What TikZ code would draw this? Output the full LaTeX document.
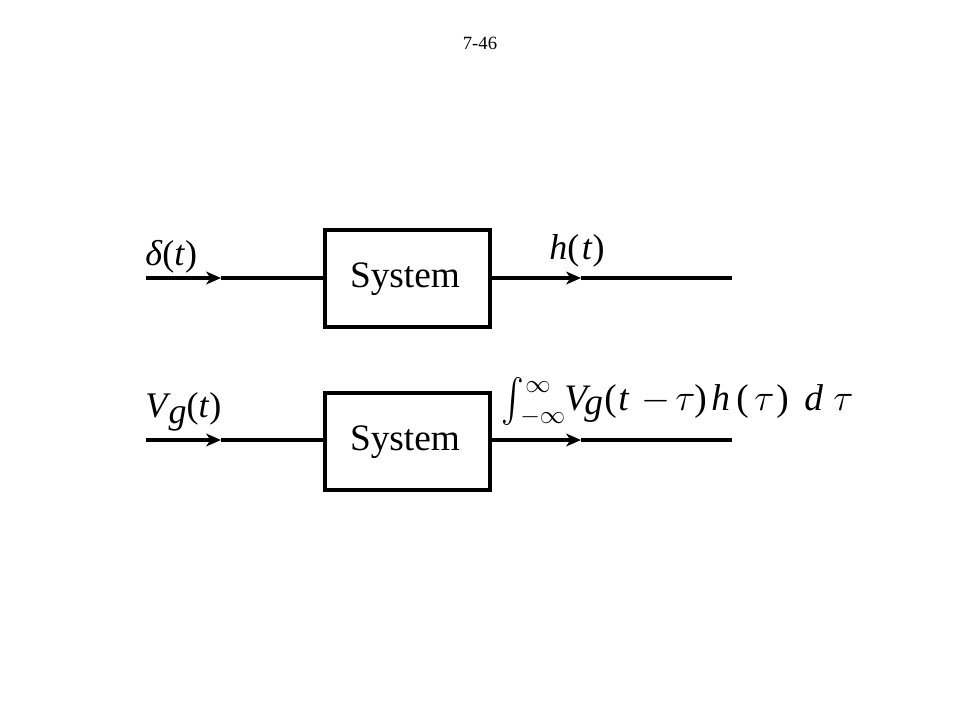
\documentclass[tikz,border=0pt]{standalone}
\usepackage{fix-cm}
\usepackage{exscale}
\usepackage{graphicx}
\usepackage{fontspec}
\setmainfont{Liberation Serif}
\usetikzlibrary{arrows.meta}
\newcommand\putat[2]{\makebox[0pt][l]{\hspace*{#1}#2}}
\newcommand\pxat[2]{\putat{\dimexpr #1pt*3/4\relax}{#2}}
\begin{document}
\begin{tikzpicture}[x=0.75pt,y=-0.75pt,
  sysbox/.style={draw,line width=2.4pt,minimum width=123.75pt,minimum height=72.75pt,inner sep=0pt},
  sig/.style={line width=2.5pt},
  sigarrow/.style={line width=2.5pt,-{Stealth[length=11pt,width=9.5pt,inset=3pt]}},
  lbl/.style={anchor=base west,inner sep=0pt},
  systext/.style={anchor=base,inner sep=0pt,font=\fontsize{28}{30}\selectfont}]
\useasboundingbox (0,0) rectangle (960,720);
\node[anchor=base,inner sep=0pt,font=\fontsize{14}{16}\selectfont] (title) at (480,50) {7-46};
% row 1
\node[sysbox] (box1) at (407.5,278.5) {};
\node[systext] (sys1) at (405,287) {System};
\coordinate (in1) at (146,278);
\coordinate (ia1) at (221,278);
\coordinate (oa1) at (581,278);
\coordinate (out1) at (732,278);
\draw[sigarrow] (in1) -- (ia1);
\draw[sig] (ia1) -- (box1.west|-in1);
\draw[sigarrow] (box1.east|-in1) -- (oa1);
\draw[sig] (oa1) -- (out1);
\node[lbl,font=\fontsize{27}{30}\selectfont] (d) at (145,266) {\textit{δ}(\textit{t})};
\node[lbl,font=\fontsize{27}{30}\selectfont] (h) at (549,260) {\textit{h}(\kern2pt\textit{t})};
% row 2
\node[sysbox] (box2) at (407.5,441.5) {};
\node[systext] (sys2) at (405,450) {System};
\coordinate (in2) at (146,440);
\coordinate (ia2) at (221,440);
\coordinate (oa2) at (581,440);
\coordinate (out2) at (732,440);
\draw[sigarrow] (in2) -- (ia2);
\draw[sig] (ia2) -- (box2.west|-in2);
\draw[sigarrow] (box2.east|-in2) -- (oa2);
\draw[sig] (oa2) -- (out2);
\node[lbl,font=\fontsize{27}{30}\selectfont] (v) at (145,417) {\textit{V}\kern-1.5pt\raisebox{-5pt}{\textit{g}}(\textit{t})};
\node[lbl,font=\fontsize{28}{30}\selectfont] (conv) at (501,410)
  {\pxat{0}{\raisebox{-11.25pt}{\resizebox*{17pt}{36pt}{\raisebox{\depth}{$\int$}}}}%
   \pxat{24}{\raisebox{13.5pt}{\fontsize{19}{20}\selectfont$\infty$}}%
   \pxat{19}{\raisebox{-9.75pt}{\fontsize{19}{20}\selectfont$-\infty$}}%
   \pxat{63}{\textit{V}}%
   \pxat{83}{\raisebox{-3pt}{\textit{g}}}%
   \pxat{103}{(}%
   \pxat{117}{\textit{t}}%
   \pxat{140}{$-$}%
   \pxat{174}{$\tau$}%
   \pxat{193}{)}%
   \pxat{210}{\textit{h}}%
   \pxat{235}{(}%
   \pxat{253}{$\tau$}%
   \pxat{275}{)}%
   \pxat{303}{\textit{d}}%
   \pxat{332}{$\tau$}%
   \hspace*{260pt}};
\end{tikzpicture}
\end{document}
